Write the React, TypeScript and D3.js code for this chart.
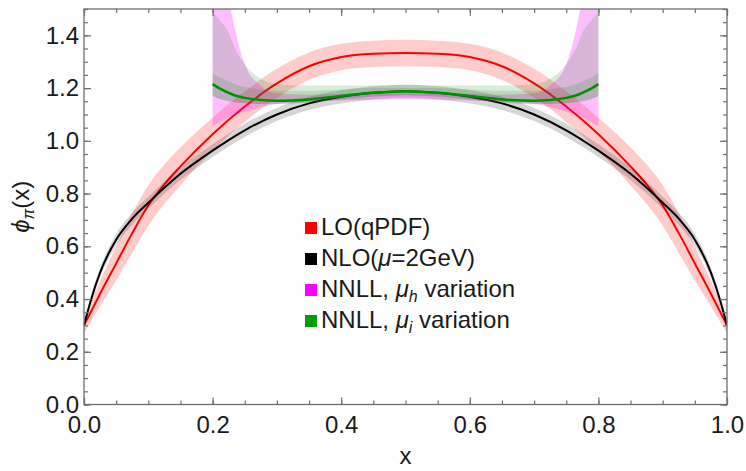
import React, { useEffect, useRef } from 'react';
import * as d3 from 'd3';

const W = 746;
const H = 471;

// LO (qPDF) curve and its band
const loX = [0, 0.025, 0.05, 0.075, 0.1, 0.125, 0.15, 0.2, 0.25, 0.3, 0.35, 0.4, 0.45, 0.5, 0.55, 0.6, 0.65, 0.7, 0.75, 0.8, 0.85, 0.875, 0.9, 0.925, 0.95, 0.975, 1];
const loMid = [0.3, 0.42, 0.535, 0.65, 0.755, 0.835, 0.903, 1.025, 1.13, 1.218, 1.283, 1.318, 1.33, 1.333, 1.33, 1.318, 1.283, 1.218, 1.13, 1.025, 0.903, 0.835, 0.755, 0.65, 0.535, 0.42, 0.3];
const loLow = [0.27, 0.372, 0.47, 0.575, 0.678, 0.76, 0.831, 0.962, 1.072, 1.163, 1.231, 1.268, 1.28, 1.283, 1.28, 1.268, 1.231, 1.163, 1.072, 0.962, 0.831, 0.76, 0.678, 0.575, 0.47, 0.372, 0.27];
const loHigh = [0.33, 0.468, 0.6, 0.725, 0.832, 0.91, 0.975, 1.088, 1.188, 1.273, 1.335, 1.368, 1.38, 1.383, 1.38, 1.368, 1.335, 1.273, 1.188, 1.088, 0.975, 0.91, 0.832, 0.725, 0.6, 0.468, 0.33];

// NLO (mu = 2 GeV)
const nloX = [0, 0.01, 0.025, 0.05, 0.075, 0.1, 0.15, 0.2, 0.25, 0.3, 0.35, 0.4, 0.45, 0.5, 0.55, 0.6, 0.65, 0.7, 0.75, 0.8, 0.85, 0.9, 0.925, 0.95, 0.975, 0.99, 1];
const nloMid = [0.3, 0.39, 0.5, 0.625, 0.705, 0.765, 0.875, 0.963, 1.04, 1.1, 1.142, 1.167, 1.182, 1.188, 1.182, 1.167, 1.142, 1.1, 1.04, 0.963, 0.875, 0.765, 0.705, 0.625, 0.5, 0.39, 0.3];
const nloLow = [0.29, 0.375, 0.482, 0.603, 0.682, 0.742, 0.851, 0.939, 1.015, 1.075, 1.117, 1.142, 1.157, 1.163, 1.157, 1.142, 1.117, 1.075, 1.015, 0.939, 0.851, 0.742, 0.682, 0.603, 0.482, 0.375, 0.29];
const nloHigh = [0.31, 0.405, 0.518, 0.647, 0.728, 0.788, 0.899, 0.987, 1.065, 1.125, 1.167, 1.192, 1.207, 1.213, 1.207, 1.192, 1.167, 1.125, 1.065, 0.987, 0.899, 0.788, 0.728, 0.647, 0.518, 0.405, 0.31];

// NNLL, defined on 0.2..0.8
const nnllX = [0.2, 0.21, 0.225, 0.235, 0.25, 0.275, 0.3, 0.35, 0.4, 0.45, 0.5, 0.55, 0.6, 0.65, 0.7, 0.725, 0.75, 0.765, 0.775, 0.79, 0.8];
const muHLow = [1.055, 1.07, 1.09, 1.1, 1.11, 1.128, 1.14, 1.148, 1.153, 1.156, 1.157, 1.156, 1.153, 1.148, 1.14, 1.128, 1.11, 1.1, 1.09, 1.07, 1.055];
const muHHigh = [2.5, 1.9, 1.55, 1.42, 1.29, 1.21, 1.18, 1.175, 1.178, 1.18, 1.18, 1.18, 1.178, 1.175, 1.18, 1.21, 1.29, 1.42, 1.55, 1.9, 2.5];
const muILine = [1.215, 1.2, 1.182, 1.172, 1.163, 1.155, 1.152, 1.157, 1.17, 1.182, 1.188, 1.182, 1.17, 1.157, 1.152, 1.155, 1.163, 1.172, 1.182, 1.2, 1.215];
const muILow = [1.17, 1.16, 1.15, 1.146, 1.143, 1.14, 1.14, 1.145, 1.157, 1.168, 1.173, 1.168, 1.157, 1.145, 1.14, 1.14, 1.143, 1.146, 1.15, 1.16, 1.17];
const muIHigh = [1.49, 1.46, 1.41, 1.35, 1.29, 1.235, 1.215, 1.21, 1.21, 1.21, 1.212, 1.21, 1.21, 1.21, 1.215, 1.235, 1.29, 1.35, 1.41, 1.46, 1.49];
const muIInner = [1.255, 1.242, 1.225, 1.215, 1.205, 1.195, 1.19, 1.19, 1.195, 1.2, 1.2, 1.2, 1.195, 1.19, 1.19, 1.195, 1.205, 1.215, 1.225, 1.242, 1.255];

const xMajor = [0, 0.2, 0.4, 0.6, 0.8, 1.0];
const yMajor = [0, 0.2, 0.4, 0.6, 0.8, 1.0, 1.2, 1.4];

const legendItems = [
  { color: '#ff0000', key: 'lo' },
  { color: '#000000', key: 'nlo' },
  { color: '#ff00ff', key: 'muh' },
  { color: '#00a000', key: 'mui' },
];

const FONT = '"Liberation Sans", Arial, sans-serif';

export default function App() {
  const ref = useRef<SVGSVGElement>(null);

  useEffect(() => {
    const svg = d3.select(ref.current);
    svg.selectAll('*').remove();

    const x = d3.scaleLinear().domain([0, 1]).range([84, 727]);
    const y = d3.scaleLinear().domain([0, 1.5]).range([404.5, 9]);

    svg.append('rect').attr('width', W).attr('height', H).attr('fill', '#fff');

    svg.append('clipPath').attr('id', 'plotclip')
      .append('rect').attr('x', x(0)).attr('y', y(1.5)).attr('width', x(1) - x(0)).attr('height', y(0) - y(1.5));

    const plot = svg.append('g').attr('clip-path', 'url(#plotclip)');

    const band = (xs: number[], lo: number[], hi: number[]) =>
      d3.area<number>().x((d, i) => x(xs[i])).y0((d, i) => y(lo[i])).y1((d, i) => y(hi[i])).curve(d3.curveMonotoneX)(lo) as string;
    const line = (xs: number[], v: number[]) =>
      d3.line<number>().x((d, i) => x(xs[i])).y(d => y(d)).curve(d3.curveMonotoneX)(v) as string;

    // LO
    plot.append('path').attr('d', band(loX, loLow, loHigh)).attr('fill', '#ff0000').attr('fill-opacity', 0.2);
    plot.append('path').attr('d', line(loX, loMid)).attr('fill', 'none').attr('stroke', '#ff0000').attr('stroke-width', 2);
    // NLO
    plot.append('path').attr('d', band(nloX, nloLow, nloHigh)).attr('fill', '#000').attr('fill-opacity', 0.16);
    plot.append('path').attr('d', line(nloX, nloMid)).attr('fill', 'none').attr('stroke', '#000').attr('stroke-width', 2);
    // NNLL mu_h
    plot.append('path').attr('d', band(nnllX, muHLow, muHHigh)).attr('fill', '#ff00ff').attr('fill-opacity', 0.25);
    // NNLL mu_i
    plot.append('path').attr('d', band(nnllX, muILow, muIHigh)).attr('fill', '#008000').attr('fill-opacity', 0.15);
    plot.append('path').attr('d', band(nnllX, muILow, muIInner)).attr('fill', '#008000').attr('fill-opacity', 0.15);
    plot.append('path').attr('d', line(nnllX, muILine)).attr('fill', 'none').attr('stroke', '#009000').attr('stroke-width', 2.5);

    // frame
    svg.append('rect').attr('x', x(0)).attr('y', y(1.5)).attr('width', x(1) - x(0)).attr('height', y(0) - y(1.5))
      .attr('fill', 'none').attr('stroke', '#6e6e6e').attr('stroke-width', 1.3);

    const xMinor = d3.range(0, 1.0001, 0.05);
    const yMinor = d3.range(0, 1.5001, 0.05);
    const fmt = d3.format('.1f');

    const style = (g: d3.Selection<SVGGElement, unknown, null, undefined>) => {
      g.select('.domain').remove();
      g.selectAll('line').attr('stroke', '#6e6e6e').attr('stroke-width', 1.2);
      g.selectAll('text').attr('fill', '#1a1a1a');
      g.attr('font-family', FONT).attr('font-size', 24);
    };

    svg.append('g').attr('transform', `translate(0,${y(0)})`)
      .call(d3.axisBottom(x).tickValues(xMajor).tickSize(-7).tickPadding(11).tickFormat(d => fmt(d as number))).call(style);
    svg.append('g').attr('transform', `translate(0,${y(0)})`)
      .call(d3.axisBottom(x).tickValues(xMinor).tickSize(-4).tickFormat(() => '')).call(style);
    svg.append('g').attr('transform', `translate(0,${y(1.5)})`)
      .call(d3.axisTop(x).tickValues(xMajor).tickSize(-7).tickFormat(() => '')).call(style);
    svg.append('g').attr('transform', `translate(0,${y(1.5)})`)
      .call(d3.axisTop(x).tickValues(xMinor).tickSize(-4).tickFormat(() => '')).call(style);

    svg.append('g').attr('transform', `translate(${x(0)},0)`)
      .call(d3.axisLeft(y).tickValues(yMajor).tickSize(-7).tickPadding(5).tickFormat(d => fmt(d as number))).call(style);
    svg.append('g').attr('transform', `translate(${x(0)},0)`)
      .call(d3.axisLeft(y).tickValues(yMinor).tickSize(-4).tickFormat(() => '')).call(style);
    svg.append('g').attr('transform', `translate(${x(1)},0)`)
      .call(d3.axisRight(y).tickValues(yMajor).tickSize(-7).tickFormat(() => '')).call(style);
    svg.append('g').attr('transform', `translate(${x(1)},0)`)
      .call(d3.axisRight(y).tickValues(yMinor).tickSize(-4).tickFormat(() => '')).call(style);

    // axis titles
    svg.append('text').attr('x', (x(0) + x(1)) / 2).attr('y', 464).attr('text-anchor', 'middle')
      .attr('font-family', FONT).attr('font-size', 24).attr('fill', '#1a1a1a').text('x');

    const yl = svg.append('text').attr('transform', `translate(29,${(y(0) + y(1.5)) / 2}) rotate(-90)`)
      .attr('text-anchor', 'middle').attr('font-family', FONT).attr('font-size', 24).attr('fill', '#1a1a1a');
    yl.append('tspan').attr('font-style', 'italic').text('\u03d5');
    yl.append('tspan').attr('font-style', 'italic').attr('font-size', 16).attr('dy', 5).text('\u03c0');
    yl.append('tspan').attr('dy', -5).text('(x)');

    // legend
    const leg = svg.append('g').attr('font-family', FONT).attr('font-size', 24).attr('fill', '#1a1a1a');
    legendItems.forEach((it, i) => {
      const by = 235 + i * 31;
      leg.append('rect').attr('x', 305).attr('y', by - 13).attr('width', 12).attr('height', 12).attr('fill', it.color);
      const t = leg.append('text').attr('x', 321).attr('y', by);
      if (it.key === 'lo') t.text('LO(qPDF)');
      if (it.key === 'nlo') {
        t.append('tspan').text('NLO(');
        t.append('tspan').attr('font-style', 'italic').text('\u03bc');
        t.append('tspan').text('=2GeV)');
      }
      if (it.key === 'muh' || it.key === 'mui') {
        t.append('tspan').text('NNLL, ');
        t.append('tspan').attr('font-style', 'italic').text('\u03bc');
        t.append('tspan').attr('font-style', 'italic').attr('font-size', 16).attr('dy', 5).text(it.key === 'muh' ? 'h' : 'i');
        t.append('tspan').attr('dy', -5).text(' variation');
      }
    });
  }, []);

  return <svg ref={ref} width={W} height={H} style={{ position: 'absolute', left: 0, top: 0 }} />;
}
